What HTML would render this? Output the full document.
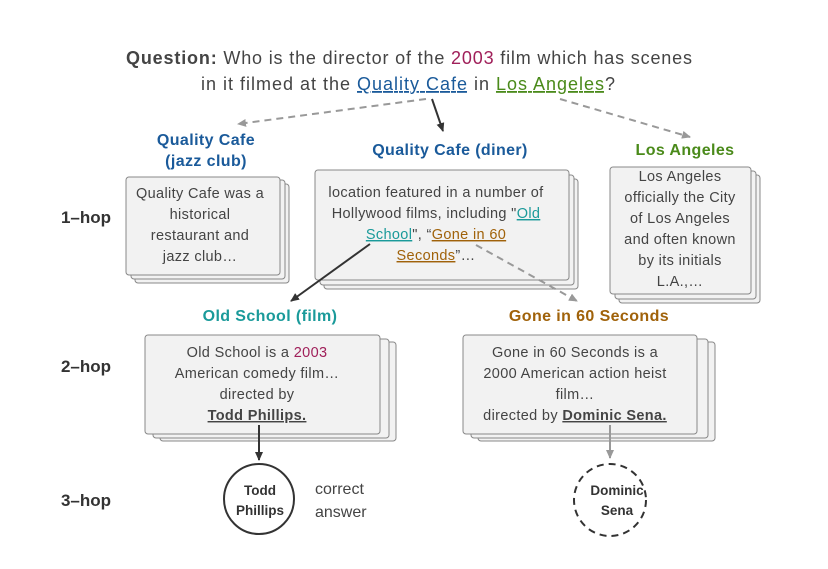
<!DOCTYPE html>
<html><head><meta charset="utf-8"><style>
html,body{margin:0;padding:0;background:#fff;}
svg{display:block;font-family:"Liberation Sans",sans-serif;}
</style></head><body>
<svg width="828" height="569" viewBox="0 0 828 569" xmlns="http://www.w3.org/2000/svg">
<defs>
<marker id="ad" markerWidth="10" markerHeight="10" refX="8" refY="4" orient="auto" markerUnits="userSpaceOnUse"><path d="M0,0 L9,4 L0,8 z" fill="#333"/></marker>
<marker id="ag" markerWidth="10" markerHeight="10" refX="8" refY="4" orient="auto" markerUnits="userSpaceOnUse"><path d="M0,0 L9,4 L0,8 z" fill="#999"/></marker>
</defs>
<g fill="#444" font-size="18">
<text x="126" y="64" textLength="566" lengthAdjust="spacing"><tspan font-weight="bold">Question:</tspan> Who is the director of the <tspan fill="#a0205a">2003</tspan> film which has scenes</text>
<text x="201" y="90" textLength="414" lengthAdjust="spacing">in it filmed at the <tspan fill="#1a5a9a" text-decoration="underline">Quality Cafe</tspan> in <tspan fill="#4a8a1a" text-decoration="underline">Los Angeles</tspan>?</text>
</g>
<!-- connectors -->
<line x1="426" y1="99" x2="238" y2="124" stroke="#999" stroke-width="2" stroke-dasharray="7,5" marker-end="url(#ag)"/>
<line x1="432" y1="99" x2="443" y2="131" stroke="#333" stroke-width="2" marker-end="url(#ad)"/>
<line x1="560" y1="99" x2="690" y2="137" stroke="#999" stroke-width="2" stroke-dasharray="7,5" marker-end="url(#ag)"/>
<g fill="#333" font-size="17" font-weight="bold" text-anchor="middle">
<text x="86" y="223">1–hop</text>
<text x="86" y="372">2–hop</text>
<text x="86" y="506">3–hop</text>
</g>
<g font-size="16" font-weight="bold" text-anchor="middle" letter-spacing="0.4">
<text x="206" y="145" fill="#1a5a9a">Quality Cafe</text>
<text x="206" y="166" fill="#1a5a9a">(jazz club)</text>
<text x="450" y="155" fill="#1a5a9a">Quality Cafe (diner)</text>
<text x="685" y="155" fill="#4a8a1a">Los Angeles</text>
<text x="270" y="321" fill="#1a9a9a">Old School (film)</text>
<text x="589" y="321" fill="#a0620a">Gone in 60 Seconds</text>
</g>
<g fill="#f2f2f2" stroke="#888" stroke-width="1">
<rect x="135" y="184" width="154" height="99" rx="3"/><rect x="131" y="180" width="154" height="99" rx="3"/><rect x="126" y="177" width="154" height="98" rx="3"/>
<rect x="324" y="179" width="254" height="110" rx="3"/><rect x="320" y="175" width="254" height="110" rx="3"/><rect x="315" y="170" width="254" height="110" rx="3"/>
<rect x="619" y="175" width="141" height="128" rx="3"/><rect x="615" y="171" width="141" height="128" rx="3"/><rect x="610" y="167" width="141" height="127" rx="3"/>
<rect x="160" y="342" width="236" height="99" rx="3"/><rect x="153" y="339" width="236" height="99" rx="3"/><rect x="145" y="335" width="235" height="99" rx="3"/>
<rect x="478" y="342" width="237" height="99" rx="3"/><rect x="471" y="339" width="237" height="99" rx="3"/><rect x="463" y="335" width="234" height="99" rx="3"/>
</g>
<g fill="#444" font-size="14.5" text-anchor="middle" letter-spacing="0.35">
<text x="200" y="198">Quality Cafe was a</text>
<text x="200" y="219">historical</text>
<text x="200" y="240">restaurant and</text>
<text x="200" y="261">jazz club…</text>
<text x="436" y="197">location featured in a number of</text>
<text x="436" y="218">Hollywood films, including "<tspan fill="#1a9a9a" text-decoration="underline">Old</tspan></text>
<text x="436" y="239"><tspan fill="#1a9a9a" text-decoration="underline">School</tspan>", “<tspan fill="#a0620a" text-decoration="underline">Gone in 60</tspan></text>
<text x="436" y="260"><tspan fill="#a0620a" text-decoration="underline">Seconds</tspan>”…</text>
<text x="680" y="181">Los Angeles</text>
<text x="680" y="202">officially the City</text>
<text x="680" y="223">of Los Angeles</text>
<text x="680" y="244">and often known</text>
<text x="680" y="265">by its initials</text>
<text x="680" y="286">L.A.,…</text>
<text x="257" y="357">Old School is a <tspan fill="#a0205a">2003</tspan></text>
<text x="257" y="378">American comedy film…</text>
<text x="257" y="399">directed by</text>
<text x="257" y="420" font-weight="bold" text-decoration="underline">Todd Phillips.</text>
<text x="575" y="357">Gone in 60 Seconds is a</text>
<text x="575" y="378">2000 American action heist</text>
<text x="575" y="399">film…</text>
<text x="575" y="420">directed by <tspan font-weight="bold" text-decoration="underline">Dominic Sena.</tspan></text>
</g>
<line x1="370" y1="244" x2="291" y2="301" stroke="#333" stroke-width="2" marker-end="url(#ad)"/>
<line x1="476" y1="245" x2="577" y2="301" stroke="#999" stroke-width="2" stroke-dasharray="7,5" marker-end="url(#ag)"/>
<line x1="259" y1="425" x2="259" y2="460" stroke="#333" stroke-width="2" marker-end="url(#ad)"/>
<line x1="610" y1="425" x2="610" y2="458" stroke="#999" stroke-width="2" marker-end="url(#ag)"/>
<circle cx="259" cy="499" r="35" fill="#fff" stroke="#333" stroke-width="2"/>
<circle cx="610" cy="500" r="36" fill="#fff" stroke="#333" stroke-width="2" stroke-dasharray="7,5"/>
<g fill="#333" font-size="13.5" font-weight="bold" text-anchor="middle">
<text x="260" y="495">Todd</text><text x="260" y="515">Phillips</text>
<text x="617" y="495">Dominic</text><text x="617" y="515">Sena</text>
</g>
<g fill="#444" font-size="16">
<text x="315" y="494">correct</text><text x="315" y="517">answer</text>
</g>
</svg>
</body></html>
